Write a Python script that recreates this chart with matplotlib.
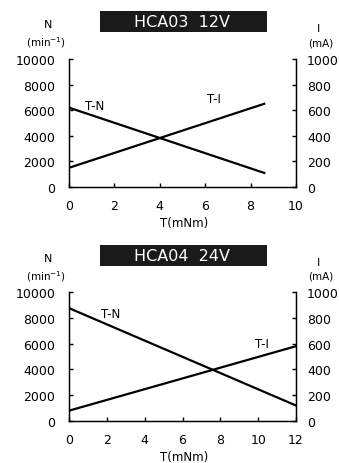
import matplotlib
matplotlib.use('Agg')
import matplotlib.pyplot as plt
from matplotlib.patches import Rectangle

plt.rcParams['font.family'] = ['DejaVu Sans']

# HCA03 12V
hca03_torque = [0, 8.6]
hca03_speed = [6200, 1100]
hca03_current = [150, 650]
hca03_xticks = [0, 2, 4, 6, 8, 10]

# HCA04 24V
hca04_torque = [0, 12]
hca04_speed = [8750, 1200]
hca04_current = [80, 580]
hca04_xticks = [0, 2, 4, 6, 8, 10, 12]

n_ticks = [0, 2000, 4000, 6000, 8000, 10000]
i_ticks = [0, 200, 400, 600, 800, 1000]

W, H = 339, 464
fig = plt.figure(figsize=(W / 100, H / 100), dpi=100)


def fx(px):
    return px / W


def fy(py):
    return 1 - py / H


def panel(top, bottom, title, box_top, box_bot, torque, speed, current, xticks,
          tn_pos, ti_pos, xlabel_y):
    ax = fig.add_axes([fx(69), fy(bottom), fx(296) - fx(69), fy(top) - fy(bottom)])
    ax.plot(torque, speed, color='black', lw=1.6)
    ax.set_xlim(xticks[0], xticks[-1])
    ax.set_ylim(0, 10000)
    ax.set_xticks(xticks)
    ax.set_yticks(n_ticks)
    ax.spines['top'].set_visible(False)
    for s in ['left', 'right', 'bottom']:
        ax.spines[s].set_linewidth(1.0)
    ax.tick_params(direction='in', length=3, width=1, labelsize=9)
    ax.tick_params(axis='x', pad=9)
    ax.tick_params(axis='y', pad=10)

    ax2 = ax.twinx()
    ax2.plot(torque, current, color='black', lw=1.6)
    ax2.set_ylim(0, 1000)
    ax2.set_yticks(i_ticks)
    ax2.spines['top'].set_visible(False)
    ax2.tick_params(direction='in', length=3, width=1, labelsize=9, pad=8)

    ax.text(tn_pos[0], tn_pos[1], 'T-N', fontsize=8.5, ha='center', va='center')
    ax.text(ti_pos[0], ti_pos[1], 'T-I', fontsize=8.5, ha='center', va='center')

    fig.text(fx(184), fy(xlabel_y), 'T(mNm)', fontsize=8.5, ha='center', va='center')
    fig.text(fx(48), fy(box_top + 13), 'N', fontsize=8, ha='center', va='center')
    fig.text(fx(46), fy(box_top + 31), '(min$^{-1}$)', fontsize=7.5, ha='center', va='center')
    fig.text(fx(318), fy(box_top + 17), 'I', fontsize=8, ha='center', va='center')
    fig.text(fx(321), fy(box_top + 31), '(mA)', fontsize=7.5, ha='center', va='center')

    fig.patches.append(Rectangle((fx(100), fy(box_bot)), fx(267) - fx(100),
                                 fy(box_top) - fy(box_bot), transform=fig.transFigure,
                                 facecolor='#1a1a1a', edgecolor='none'))
    fig.text(fx(182), fy((box_top + box_bot) / 2), title, fontsize=11.5, color='white',
             ha='center', va='center')


panel(60, 188, 'HCA03  12V', 12, 33, hca03_torque, hca03_speed, hca03_current,
      hca03_xticks, (1.15, 6400), (6.4, 6875), 223)
panel(293, 422, 'HCA04  24V', 246, 267, hca04_torque, hca04_speed, hca04_current,
      hca04_xticks, (2.2, 8370), (10.2, 5970), 458)

fig.savefig('out.png', dpi=100)
